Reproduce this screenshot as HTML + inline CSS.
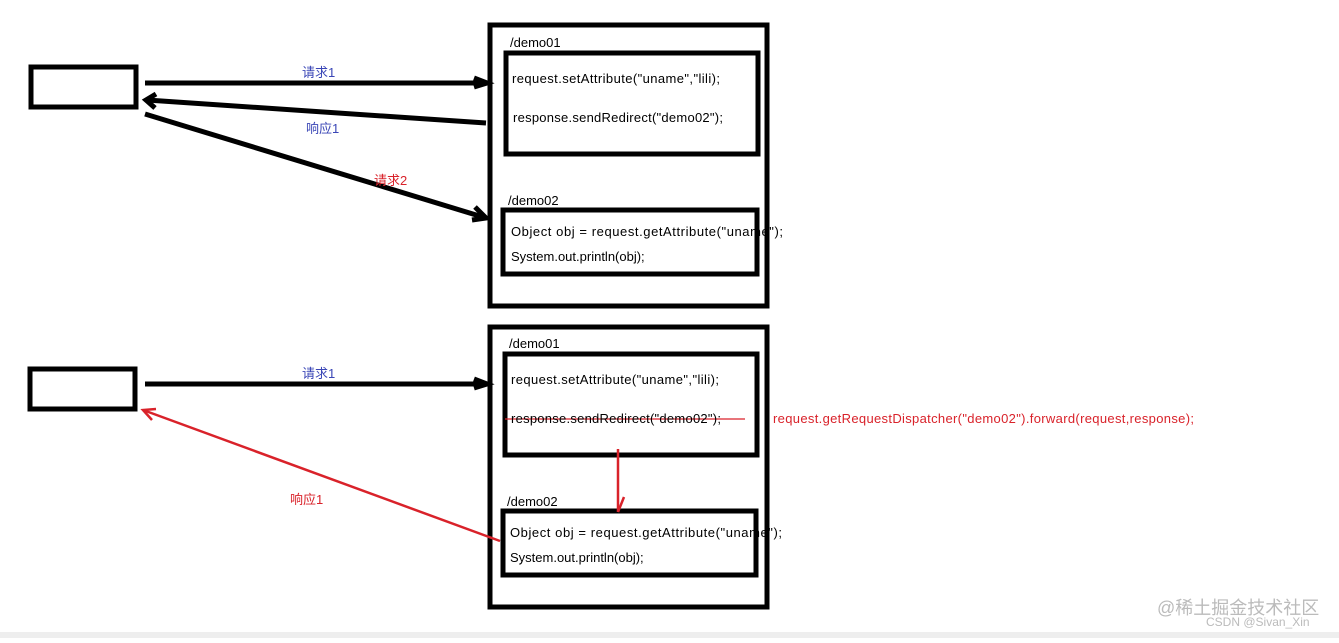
<!DOCTYPE html>
<html><head><meta charset="utf-8"><style>
body{margin:0;width:1339px;height:638px;background:#fff;overflow:hidden}
text{font-family:"Liberation Sans","Noto Sans CJK SC",sans-serif;font-size:13px}
</style></head><body>
<svg width="1339" height="638" xmlns="http://www.w3.org/2000/svg">
<g fill="none" stroke="#000" stroke-width="5">
<rect x="31" y="67" width="105" height="40"/>
<rect x="490" y="25" width="277" height="281"/>
<rect x="506" y="53" width="252" height="101"/>
<rect x="503" y="210" width="254" height="64"/>
<rect x="30" y="369" width="105" height="40"/>
<rect x="490" y="327" width="277" height="280"/>
<rect x="505" y="354" width="252" height="101"/>
<rect x="503" y="511" width="253" height="64"/>
</g>
<g stroke="#000" stroke-width="5" fill="none">
<line x1="145" y1="83" x2="486" y2="83"/><polyline points="474,78 487,83 474,87"/>
<line x1="486" y1="123" x2="147" y2="100"/><polyline points="156,94 146,100 155,108"/>
<line x1="145" y1="114" x2="486" y2="218"/><polyline points="475,207 486,218 472,220"/>
<line x1="145" y1="384" x2="486" y2="384"/><polyline points="474,379 487,384 474,388"/>
</g>
<g stroke="#d9222a" stroke-width="2.5" fill="none">
<line x1="500" y1="541" x2="143" y2="410"/><polyline points="152,420 143,410 156,409"/>
<line x1="618" y1="449" x2="618" y2="512"/><line x1="618" y1="512" x2="624" y2="497"/>
</g>
<line x1="505" y1="419" x2="745" y2="419" stroke="#d9222a" stroke-width="1.2"/>
<text x="302" y="77" fill="#3a46b6">请求1</text>
<text x="306" y="133" fill="#3a46b6">响应1</text>
<text x="374" y="185" fill="#d9222a">请求2</text>
<text x="302" y="378" fill="#3a46b6">请求1</text>
<text x="290" y="504" fill="#d9222a">响应1</text>
<text x="510" y="47">/demo01</text>
<text x="512" y="83" textLength="208">request.setAttribute("uname","lili);</text>
<text x="513" y="122" textLength="210">response.sendRedirect("demo02");</text>
<text x="508" y="205">/demo02</text>
<text x="511" y="236" textLength="272">Object obj = request.getAttribute("uname");</text>
<text x="511" y="261">System.out.println(obj);</text>
<text x="509" y="348">/demo01</text>
<text x="511" y="384" textLength="208">request.setAttribute("uname","lili);</text>
<text x="511" y="423" textLength="210">response.sendRedirect("demo02");</text>
<text x="773" y="423" fill="#d9222a" textLength="421">request.getRequestDispatcher("demo02").forward(request,response);</text>
<text x="507" y="506">/demo02</text>
<text x="510" y="537" textLength="272">Object obj = request.getAttribute("uname");</text>
<text x="510" y="562">System.out.println(obj);</text>
<text x="1157" y="614" fill="#bbb" style="font-size:18px">@稀土掘金技术社区</text>
<text x="1206" y="626" fill="#bbb" style="font-size:12px">CSDN @Sivan_Xin</text>
<rect x="0" y="632" width="1339" height="6" fill="#eee"/>
</svg>
</body></html>
